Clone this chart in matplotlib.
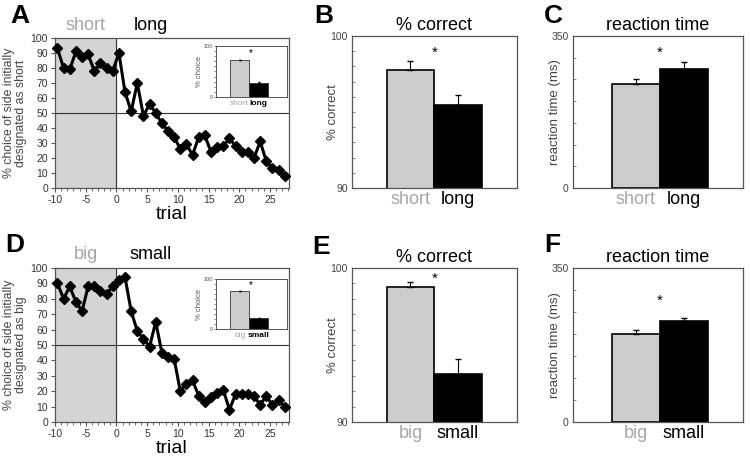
import numpy as np
import matplotlib
matplotlib.use('Agg')
import matplotlib.pyplot as plt

plt.rcParams['font.family'] = ['Liberation Sans', 'DejaVu Sans']
plt.rcParams['axes.unicode_minus'] = False

# ---- data ----
trials = np.arange(-10, 28)

choice_short = [93, 80, 79, 91, 87, 89, 78, 83, 80, 78,
                90, 64, 51, 70, 48, 56, 50, 43, 38, 34,
                26, 29, 22, 34, 35, 24, 27, 28, 33, 28,
                24, 24, 20, 31, 18, 13, 12, 8]
choice_big = [90, 80, 88, 78, 72, 88, 88, 85, 83, 88,
              92, 94, 72, 59, 54, 49, 65, 45, 42, 41,
              20, 25, 27, 17, 13, 16, 19, 21, 8, 18,
              18, 18, 17, 11, 17, 11, 14, 10]

inset_short_long = [72.5, 27.5]
inset_short_long_err = [1.0, 1.0]
inset_big_small = [76, 22]
inset_big_small_err = [1.0, 1.0]

correct_short_long = [97.76, 95.46]
correct_short_long_err = [0.6, 0.65]
rt_short_long = [239, 274]
rt_short_long_err = [12, 16]

correct_big_small = [98.77, 93.1]
correct_big_small_err = [0.33, 1.0]
rt_big_small = [200, 229]
rt_big_small_err = [9, 7]

labels_top = ['short', 'long']
labels_bot = ['big', 'small']

GRAY_TXT = '#a6a6a6'
GRAY_BAR = '#cccccc'
SPINE = '#555555'


def frame(ax):
    for s in ax.spines.values():
        s.set_color(SPINE)
        s.set_linewidth(0.9)


def choice_panel(ax, values, left_lab, right_lab, ylab):
    ax.axvspan(-10, 0, color='#d4d4d4', zorder=0)
    ax.axhline(50, color='#333333', lw=0.8, zorder=1)
    ax.axvline(0, color='#333333', lw=0.8, zorder=1)
    ax.plot(trials + 0.4, values, color='black', lw=2.2,
            marker='D', markersize=5.2, zorder=3, clip_on=False)
    ax.set_xlim(-10, 28.1)
    ax.set_ylim(0, 100)
    ax.set_xticks(np.arange(-10, 30, 5))
    ax.set_xticks(np.arange(-10, 29, 1), minor=True)
    ax.set_yticks(np.arange(0, 101, 10))
    ax.tick_params(axis='both', which='major', labelsize=7.5, length=3,
                   color=SPINE, labelcolor='#333333', pad=2)
    ax.tick_params(axis='x', which='minor', length=2.5, color=SPINE)
    ax.set_xlabel('trial', fontsize=14, labelpad=1)
    ax.set_ylabel(ylab, fontsize=8.8, color='#444444',
                  linespacing=0.95)
    ax.yaxis.set_label_coords(-0.12, 0.5)
    ax.text(-5, 103, left_lab, color=GRAY_TXT, fontsize=13,
            ha='center', va='bottom')
    ax.text(5.6, 103, right_lab, color='black', fontsize=13,
            ha='center', va='bottom')
    frame(ax)


def inset_panel(ax, values, err, labs, star_y):
    x = np.arange(2)
    ax.bar(x, values, width=1.0, color=[GRAY_BAR, 'black'],
           edgecolor='#333333', linewidth=0.6)
    ax.errorbar(x, values, yerr=[[0, 0], err], fmt='none',
                ecolor='black', elinewidth=0.5, capsize=1)
    ax.text(0.6, star_y, '*', fontsize=7, ha='center', va='center')
    ax.set_xlim(-1.25, 2.5)
    ax.set_ylim(0, 100)
    ax.set_yticks([0, 100])
    ax.set_yticks(np.arange(0, 101, 10), minor=True)
    ax.set_yticklabels(['0', '100'], fontsize=4, color='#555555')
    ax.tick_params(axis='y', which='both', length=1.5, width=0.5,
                   color=SPINE, pad=1)
    ax.set_xticks(x)
    ax.set_xticklabels(labs, fontsize=6)
    ax.get_xticklabels()[0].set_color(GRAY_TXT)
    ax.get_xticklabels()[1].set_color('black')
    ax.get_xticklabels()[1].set_fontweight('bold')
    ax.tick_params(axis='x', length=0, pad=2)
    ax.set_ylabel('% choice', fontsize=5.5, color='#555555', labelpad=0)
    for s in ax.spines.values():
        s.set_color(SPINE)
        s.set_linewidth(0.7)


def bar_panel(ax, values, err, labs, title, ylab, ylim, ticks, star_y, xlim,
              label_x):
    x = np.arange(2)
    ax.bar(x, values, width=1.0, color=[GRAY_BAR, 'black'],
           edgecolor='black', linewidth=1.2, zorder=2)
    ax.errorbar(x, values, yerr=[[0, 0], err], fmt='none',
                ecolor='black', elinewidth=0.8, capsize=2, zorder=3)
    ax.text(0.5, star_y, '*', fontsize=11, ha='center', va='center')
    ax.set_xlim(*xlim)
    ax.set_ylim(*ylim)
    ax.set_yticks(ylim)
    ax.set_yticklabels([str(v) for v in ylim], fontsize=7.5, color='#444444')
    ax.set_yticks(ticks, minor=True)
    ax.tick_params(axis='y', which='both', direction='in', length=2,
                   width=0.5, color=SPINE, pad=3)
    ax.set_xticks(x)
    ax.set_xticklabels(labs, fontsize=13)
    ax.get_xticklabels()[0].set_color(GRAY_TXT)
    ax.tick_params(axis='x', length=0, pad=2)
    ax.set_title(title, fontsize=13, pad=4)
    ax.set_ylabel(ylab, fontsize=9.5, color='#444444')
    ax.yaxis.set_label_coords(label_x, 0.5)
    frame(ax)


fig = plt.figure(figsize=(7.5, 4.61), dpi=100)
W, H = 750.0, 461.0


def box(x0, x1, y0, y1):
    return [x0 / W, 1 - y1 / H, (x1 - x0) / W, (y1 - y0) / H]


axA = fig.add_axes(box(55, 289, 38, 188))
axB = fig.add_axes(box(352, 517, 36, 188))
axC = fig.add_axes(box(573, 743, 36, 188))
axD = fig.add_axes(box(55, 289, 268, 422))
axE = fig.add_axes(box(352, 517, 268, 422))
axF = fig.add_axes(box(573, 743, 268, 422))
axA_in = fig.add_axes(box(216, 287, 46, 97))
axD_in = fig.add_axes(box(216, 287, 279, 329))

choice_panel(axA, choice_short, 'short', 'long',
             '% choice of side initially\ndesignated as short')
choice_panel(axD, choice_big, 'big', 'small',
             '% choice of side initially\ndesignated as big')

inset_panel(axA_in, inset_short_long, inset_short_long_err, labels_top, 86)
inset_panel(axD_in, inset_big_small, inset_big_small_err, labels_bot, 88)

bar_panel(axB, correct_short_long, correct_short_long_err, labels_top,
          '% correct', '% correct', (90, 100), np.arange(90, 101, 1),
          98.9, (-1.23, 2.24), -0.08)
bar_panel(axC, rt_short_long, rt_short_long_err, labels_top,
          'reaction time', 'reaction time (ms)', (0, 350),
          np.arange(0, 351, 50), 311, (-1.31, 2.23), -0.07)
bar_panel(axE, correct_big_small, correct_big_small_err, labels_bot,
          '% correct', '% correct', (90, 100), np.arange(90, 101, 1),
          99.3, (-1.23, 2.24), -0.08)
bar_panel(axF, rt_big_small, rt_big_small_err, labels_bot,
          'reaction time', 'reaction time (ms)', (0, 350),
          np.arange(0, 351, 50), 275, (-1.31, 2.23), -0.07)

# panel letters
for lab, px, py in [('A', 10, 4), ('B', 314, 4), ('C', 544, 4),
                    ('D', 5, 233), ('E', 312, 235), ('F', 544, 233)]:
    fig.text(px / W, 1 - py / H, lab, fontsize=19, fontweight='bold',
             ha='left', va='top')

fig.savefig('out.png', dpi=100)
